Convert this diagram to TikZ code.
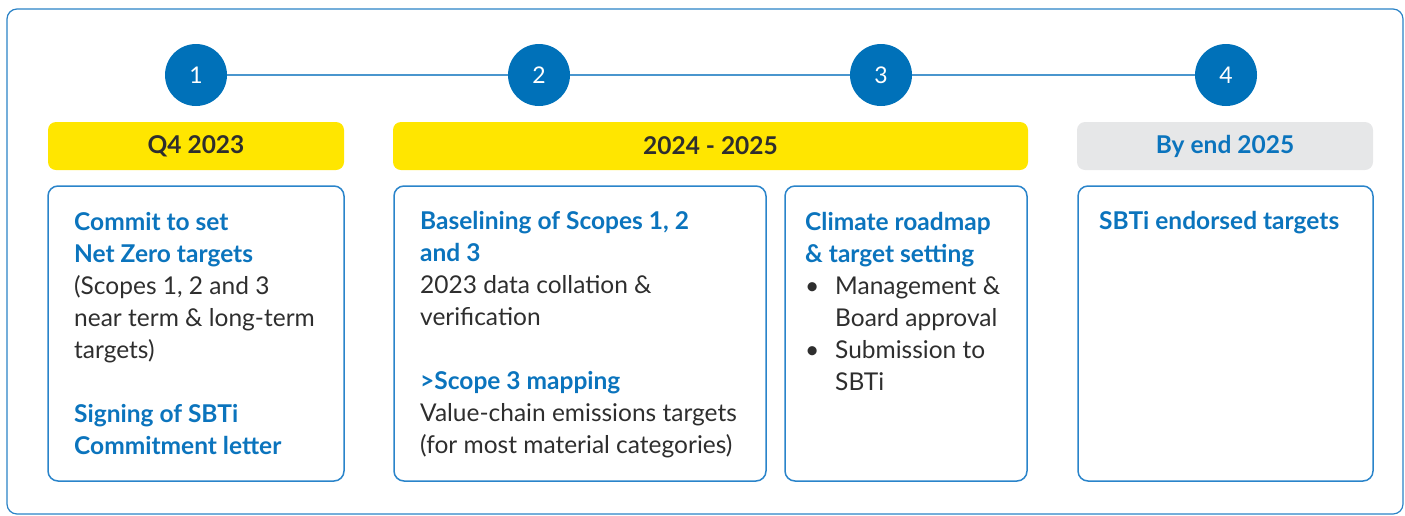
\documentclass[tikz,border=0pt]{standalone}
\usepackage{fontspec}
\setmainfont{Lato}
\definecolor{framecol}{HTML}{2A82C6}
\definecolor{boxcol}{HTML}{2A84CA}
\definecolor{stepblue}{HTML}{0071B9}
\definecolor{linkblue}{HTML}{4A96CE}
\definecolor{baryellow}{HTML}{FFE600}
\definecolor{bargray}{HTML}{E6E7E8}
\definecolor{headblue}{HTML}{0B74BD}
\definecolor{bodygray}{HTML}{2E2E2E}
\begin{document}
\begin{tikzpicture}[x=1pt,y=-1pt,
  frame/.style={draw=framecol, line width=1.2pt, rounded corners=10pt},
  card/.style={draw=boxcol, line width=1.5pt, rounded corners=10pt, inner sep=0},
  bar/.style={rounded corners=8pt, minimum height=48pt, inner sep=0, font=\fontsize{24.5}{28}\bfseries\selectfont},
  stepnum/.style={circle, fill=stepblue, text=white, minimum size=62pt, inner sep=0, font=\fontsize{23}{23}\selectfont},
  link/.style={draw=linkblue, line width=2pt},
  body/.style={anchor=base west, inner sep=0, text=bodygray, font=\fontsize{24.5}{32}\selectfont}
]
\newcommand{\hb}[1]{{\bfseries\color{headblue}#1}}
\useasboundingbox (0,0) rectangle (1405,515);
\draw[frame] (7,9) rectangle (1403,514);

% timeline
\node[stepnum] (c1) at (196,75) {1};
\node[stepnum] (c2) at (539,75) {2};
\node[stepnum] (c3) at (881,75) {3};
\node[stepnum] (c4) at (1226,75) {4};
\draw[link] (c1) -- (c2);
\draw[link] (c2) -- (c3);
\draw[link] (c3) -- (c4);

% period bars
\node[bar, fill=baryellow, text=bodygray, minimum width=296pt] (h1) at (196,146) {Q4 2023};
\node[bar, fill=baryellow, text=bodygray, minimum width=635pt] (h2) at (710.5,146) {2024 - 2025};
\node[bar, fill=bargray, text=headblue, minimum width=296pt] (h3) at (1225,146) {By end 2025};

% cards
\node[card, minimum width=296pt, minimum height=295pt] (b1) at (196,333.5) {};
\node[card, minimum width=372pt, minimum height=295pt] (b2) at (580,333.5) {};
\node[card, minimum width=242pt, minimum height=295pt] (b3) at (906,333.5) {};
\node[card, minimum width=295pt, minimum height=295pt] (b4) at (1225.5,333.5) {};

% card texts
\node[body] (t1) at (74,212.5) {\parbox[t]{265pt}{%
\hb{Commit to set}\\
\hb{Net Zero targets}\\
(Scopes 1, 2 and 3\\
near term \& long-term\\
targets)\\[32pt]
\hb{Signing of SBTi}\\
\hb{Commitment letter}}};

\node[body] (t2) at (420,211.5) {\parbox[t]{340pt}{%
\hb{Baselining of Scopes 1, 2}\\
\hb{and 3}\\
2023 data collation \&\\
verification\\[32pt]
\hb{>Scope 3 mapping}\\
Value-chain emissions targets\\
(for most material categories)}};

\node[body] (t3) at (805,212.5) {\parbox[t]{220pt}{%
\hb{Climate roadmap}\\
\hb{\& target setting}\\
\makebox[30pt][l]{\textbullet}Management \&\\
\hspace*{30pt}Board approval\\
\makebox[30pt][l]{\textbullet}Submission to\\
\hspace*{30pt}SBTi}};

\node[body] (t4) at (1099,211.5) {\parbox[t]{265pt}{\hb{SBTi endorsed targets}}};
\end{tikzpicture}
\end{document}
